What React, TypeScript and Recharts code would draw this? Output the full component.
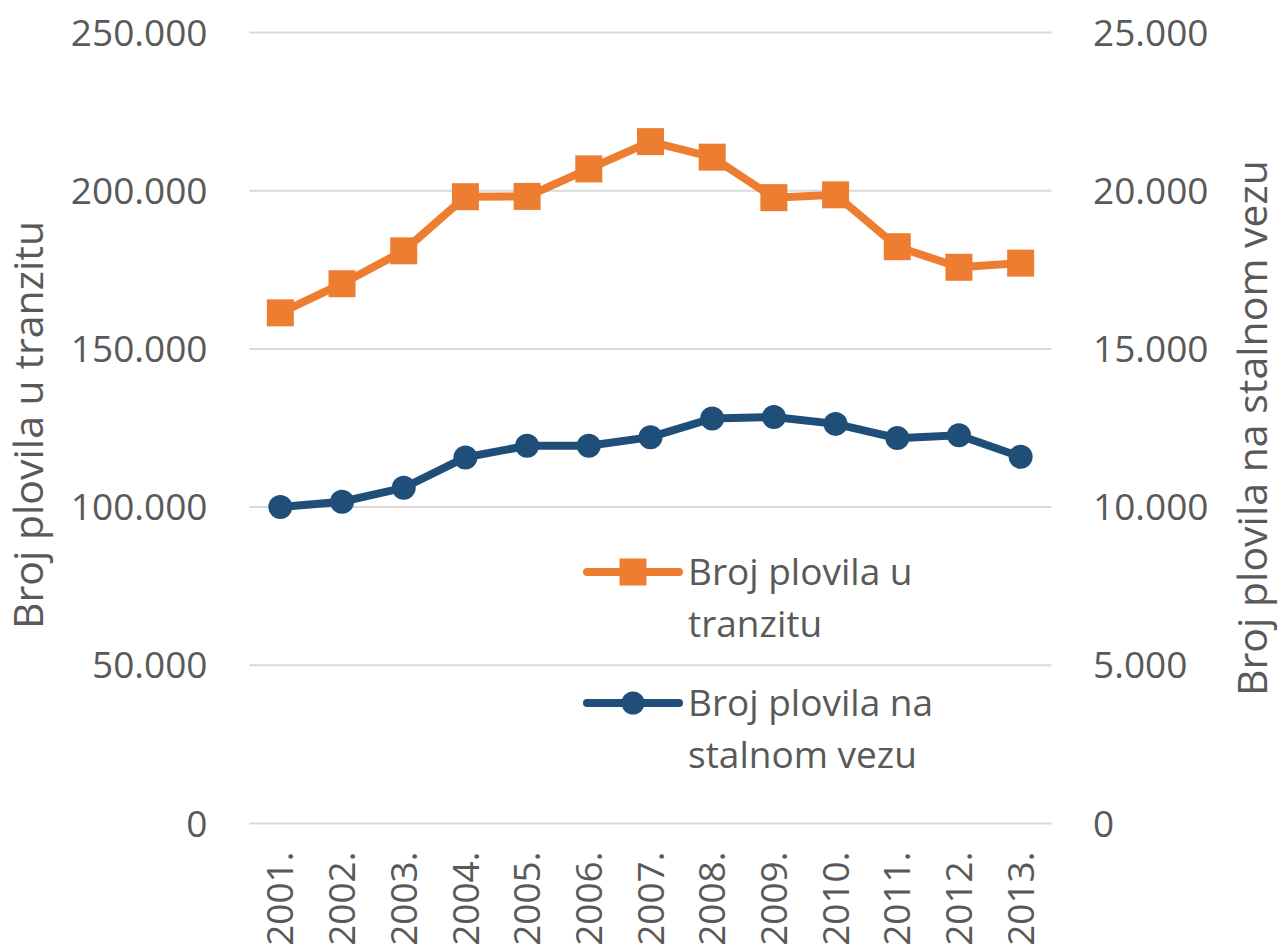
import React from 'react';
import { LineChart, Line, XAxis, YAxis, CartesianGrid, Legend } from 'recharts';

const years = ['2001.', '2002.', '2003.', '2004.', '2005.', '2006.', '2007.', '2008.', '2009.', '2010.', '2011.', '2012.', '2013.'];
const tranzit = [161400, 170600, 181000, 198100, 198200, 206900, 215500, 210600, 197800, 198700, 182300, 175800, 177100];
const stalniVez = [10000, 10170, 10610, 11570, 11940, 11940, 12210, 12800, 12850, 12630, 12180, 12270, 11590];
const leftTicks = [0, 50000, 100000, 150000, 200000, 250000];
const rightTicks = [0, 5000, 10000, 15000, 20000, 25000];
const seriesNames = ['Broj plovila u tranzitu', 'Broj plovila na stalnom vezu'];
const leftTitle = 'Broj plovila u tranzitu';
const rightTitle = 'Broj plovila na stalnom vezu';

const data = years.map((y, i) => ({ year: y, tranzit: tranzit[i], vez: stalniVez[i] }));

const ORANGE = '#ED7D31';
const BLUE = '#1F4E79';
const TEXT = '#595959';
const FONT = '"Open Sans", sans-serif';
const TICK_SIZE = 37;
const TITLE_SIZE = 41;

const fmt = (v: number) => String(v).replace(/\B(?=(\d{3})+(?!\d))/g, '.');

const XTick = (props: any) => {
  const { x, y, payload } = props;
  return (
    <g transform={`translate(${x},${y + 20})`}>
      <text transform="rotate(-90)" x={0} y={0} dy="0.355em" textAnchor="end" fill={TEXT} fontSize={TICK_SIZE} fontFamily={FONT}>
        {payload.value}
      </text>
    </g>
  );
};

const LeftTitle = (props: any) => {
  const vb = props.viewBox;
  const cx = vb.x + 28;
  const cy = vb.y + vb.height / 2 - 3;
  return (
    <text x={cx} y={cy} dy="0.355em" transform={`rotate(-90, ${cx}, ${cy})`} textAnchor="middle" fill={TEXT} fontSize={TITLE_SIZE} fontFamily={FONT}>
      {leftTitle}
    </text>
  );
};

const RightTitle = (props: any) => {
  const vb = props.viewBox;
  const cx = vb.x + vb.width - 27;
  const cy = vb.y + vb.height / 2;
  return (
    <text x={cx} y={cy} dy="0.355em" transform={`rotate(-90, ${cx}, ${cy})`} textAnchor="middle" fill={TEXT} fontSize={TITLE_SIZE} fontFamily={FONT}>
      {rightTitle}
    </text>
  );
};

const SquareDot = (props: any) => {
  const { cx, cy, index } = props;
  if (cx == null || cy == null) return <g key={index} />;
  return <rect key={index} x={cx - 13.5} y={cy - 13.5} width={27} height={27} fill={ORANGE} />;
};

const LegendContent = (props: any) => {
  const items = [...(props.payload || [])].sort(
    (a: any, b: any) => seriesNames.indexOf(a.value) - seriesNames.indexOf(b.value)
  );
  return (
    <div style={{ fontFamily: FONT, fontSize: TICK_SIZE, color: TEXT, lineHeight: '52px' }}>
      {items.map((entry: any, i: number) => (
        <div key={i} style={{ display: 'flex', alignItems: 'flex-start', marginBottom: 27 }}>
          <svg width={109} height={52} style={{ flex: 'none' }}>
            <line x1={8} y1={27} x2={100} y2={27} stroke={entry.color} strokeWidth={8} strokeLinecap="round" />
            {entry.dataKey === 'tranzit' ? (
              <rect x={40.5} y={13.5} width={27} height={27} fill={entry.color} />
            ) : (
              <circle cx={54} cy={27} r={11.5} fill={entry.color} />
            )}
          </svg>
          <div style={{ width: 255 }}>{entry.value}</div>
        </div>
      ))}
    </div>
  );
};

export default function App() {
  return (
    <div style={{ position: 'absolute', left: 0, top: 0, background: '#fff' }}>
      <LineChart width={1279} height={949} data={data} margin={{ top: 32.5, right: 0, left: 0, bottom: 0 }}>
        <CartesianGrid yAxisId="left" vertical={false} stroke="#D9D9D9" strokeWidth={2} />
        <XAxis dataKey="year" scale="band" height={125.5} axisLine={false} tickLine={false} interval={0} tick={<XTick />} />
        <YAxis
          yAxisId="left"
          orientation="left"
          width={249.5}
          domain={[0, 250000]}
          ticks={leftTicks}
          tickFormatter={fmt}
          axisLine={false}
          tickLine={false}
          tickMargin={36}
          tick={{ fill: TEXT, fontSize: TICK_SIZE, fontFamily: FONT }}
          label={{ content: <LeftTitle /> }}
        />
        <YAxis
          yAxisId="right"
          orientation="right"
          width={227.5}
          domain={[0, 25000]}
          ticks={rightTicks}
          tickFormatter={fmt}
          axisLine={false}
          tickLine={false}
          tickMargin={35.5}
          tick={{ fill: TEXT, fontSize: TICK_SIZE, fontFamily: FONT, textAnchor: 'start' }}
          label={{ content: <RightTitle /> }}
        />
        <Legend
          layout="horizontal"
          verticalAlign="middle"
          align="center"
          content={<LegendContent />}
          wrapperStyle={{ position: 'absolute', left: 579, top: 544.5, width: 400 }}
        />
        <Line
          yAxisId="left"
          name={seriesNames[0]}
          dataKey="tranzit"
          stroke={ORANGE}
          strokeWidth={8}
          dot={SquareDot}
          isAnimationActive={false}
        />
        <Line
          yAxisId="right"
          name={seriesNames[1]}
          dataKey="vez"
          stroke={BLUE}
          strokeWidth={8}
          dot={{ r: 12, fill: BLUE, stroke: BLUE, strokeWidth: 0 }}
          isAnimationActive={false}
        />
      </LineChart>
    </div>
  );
}
